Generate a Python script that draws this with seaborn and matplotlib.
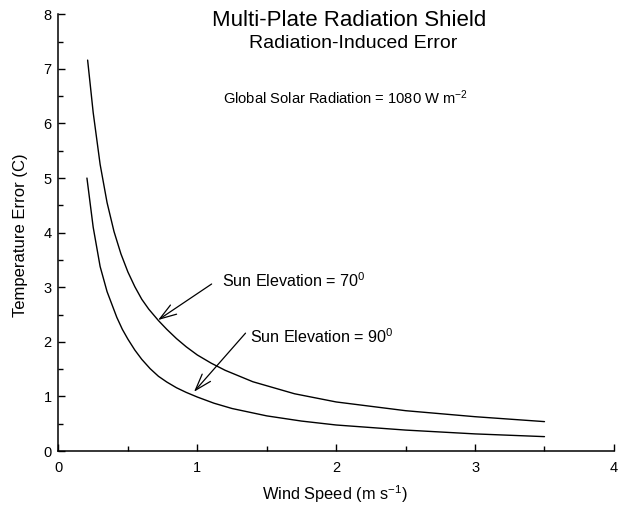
import numpy as np
import pandas as pd
import matplotlib
matplotlib.use("Agg")
import matplotlib.pyplot as plt
import seaborn as sns
from matplotlib.ticker import MultipleLocator

# Data
wind_70 = [0.21, 0.25, 0.30, 0.35, 0.40, 0.45, 0.50, 0.55, 0.60, 0.65, 0.72, 0.78, 0.85, 0.92,
           1.0, 1.1, 1.2, 1.4, 1.7, 2.0, 2.5, 3.0, 3.5]
err_70 = [7.16, 6.20, 5.25, 4.55, 4.02, 3.61, 3.28, 3.01, 2.78, 2.60, 2.39, 2.23, 2.06, 1.91,
          1.76, 1.61, 1.48, 1.27, 1.05, 0.90, 0.74, 0.63, 0.54]
wind_90 = [0.205, 0.25, 0.30, 0.35, 0.42, 0.46, 0.50, 0.55, 0.60, 0.66, 0.72, 0.78, 0.85, 0.92,
           1.0, 1.12, 1.25, 1.5, 1.75, 2.0, 2.5, 3.0, 3.5]
err_90 = [5.0, 4.10, 3.38, 2.92, 2.45, 2.23, 2.05, 1.85, 1.68, 1.51, 1.37, 1.265, 1.16, 1.075,
          0.99, 0.877, 0.78, 0.645, 0.55, 0.478, 0.385, 0.315, 0.265]
series_names = ["Sun Elevation = 70", "Sun Elevation = 90"]
x_ticks = [0, 1, 2, 3, 4]
y_ticks = [0, 1, 2, 3, 4, 5, 6, 7, 8]

df = pd.concat([
    pd.DataFrame({"wind": wind_70, "err": err_70, "series": series_names[0]}),
    pd.DataFrame({"wind": wind_90, "err": err_90, "series": series_names[1]}),
])

sns.set_theme(style="ticks")
plt.rcParams["font.family"] = ["Liberation Sans", "DejaVu Sans"]
plt.rcParams["mathtext.fontset"] = "custom"
plt.rcParams["mathtext.rm"] = "Liberation Sans"
plt.rcParams["mathtext.it"] = "Liberation Sans"

fig = plt.figure(figsize=(6.22, 5.08), dpi=100)
ax = fig.add_axes([0.094, 0.112, 0.893, 0.860])

sns.lineplot(data=df, x="wind", y="err", hue="series", palette=["black", "black"],
             linewidth=1.0, legend=False, ax=ax, sort=False, estimator=None)

ax.set_xlim(0, 4)
ax.set_ylim(0, 8)
ax.set_xticks(x_ticks)
ax.set_yticks(y_ticks)
ax.xaxis.set_minor_locator(MultipleLocator(0.5))
ax.yaxis.set_minor_locator(MultipleLocator(0.5))
ax.tick_params(which="both", direction="in", color="black", width=1.0,
               labelsize=10.5, labelcolor="black")
ax.tick_params(which="major", length=5)
ax.tick_params(which="minor", length=3.5)
ax.tick_params(axis="y", which="major", pad=5)
ax.tick_params(axis="x", which="major", pad=7)
sns.despine(ax=ax)
for s in ["left", "bottom"]:
    ax.spines[s].set_color("black")
    ax.spines[s].set_linewidth(1.1)

ax.set_xlabel("Wind Speed (m s$^{-1}$)", fontsize=11.8, color="black", va="center")
ax.set_ylabel("Temperature Error (C)", fontsize=12, color="black", va="center")
ax.xaxis.set_label_coords(0.498, -0.098)
ax.yaxis.set_label_coords(-0.069, 0.495)

ax.text(2.09, 7.89, "Multi-Plate Radiation Shield", ha="center", va="center", fontsize=16, color="black")
ax.text(2.12, 7.47, "Radiation-Induced Error", ha="center", va="center", fontsize=14, color="black")
ax.text(2.07, 6.48, "Global Solar Radiation = 1080 W m$^{-2}$", ha="center", va="center",
        fontsize=10.6, color="black")

ax.text(1.175, 3.13, "Sun Elevation = 70$^0$", ha="left", va="center", fontsize=11.6, color="black")
ax.text(1.38, 2.10, "Sun Elevation = 90$^0$", ha="left", va="center", fontsize=11.6, color="black")

arrow_kw = dict(arrowstyle="->,head_length=1.0,head_width=0.33", color="black", lw=0.9,
                shrinkA=0, shrinkB=0, mutation_scale=12)
ax.annotate("", xy=(0.717, 2.40), xytext=(1.103, 3.06), arrowprops=arrow_kw)
ax.annotate("", xy=(0.976, 1.086), xytext=(1.347, 2.16), arrowprops=arrow_kw)

fig.savefig("out.png", dpi=100, facecolor="white")
